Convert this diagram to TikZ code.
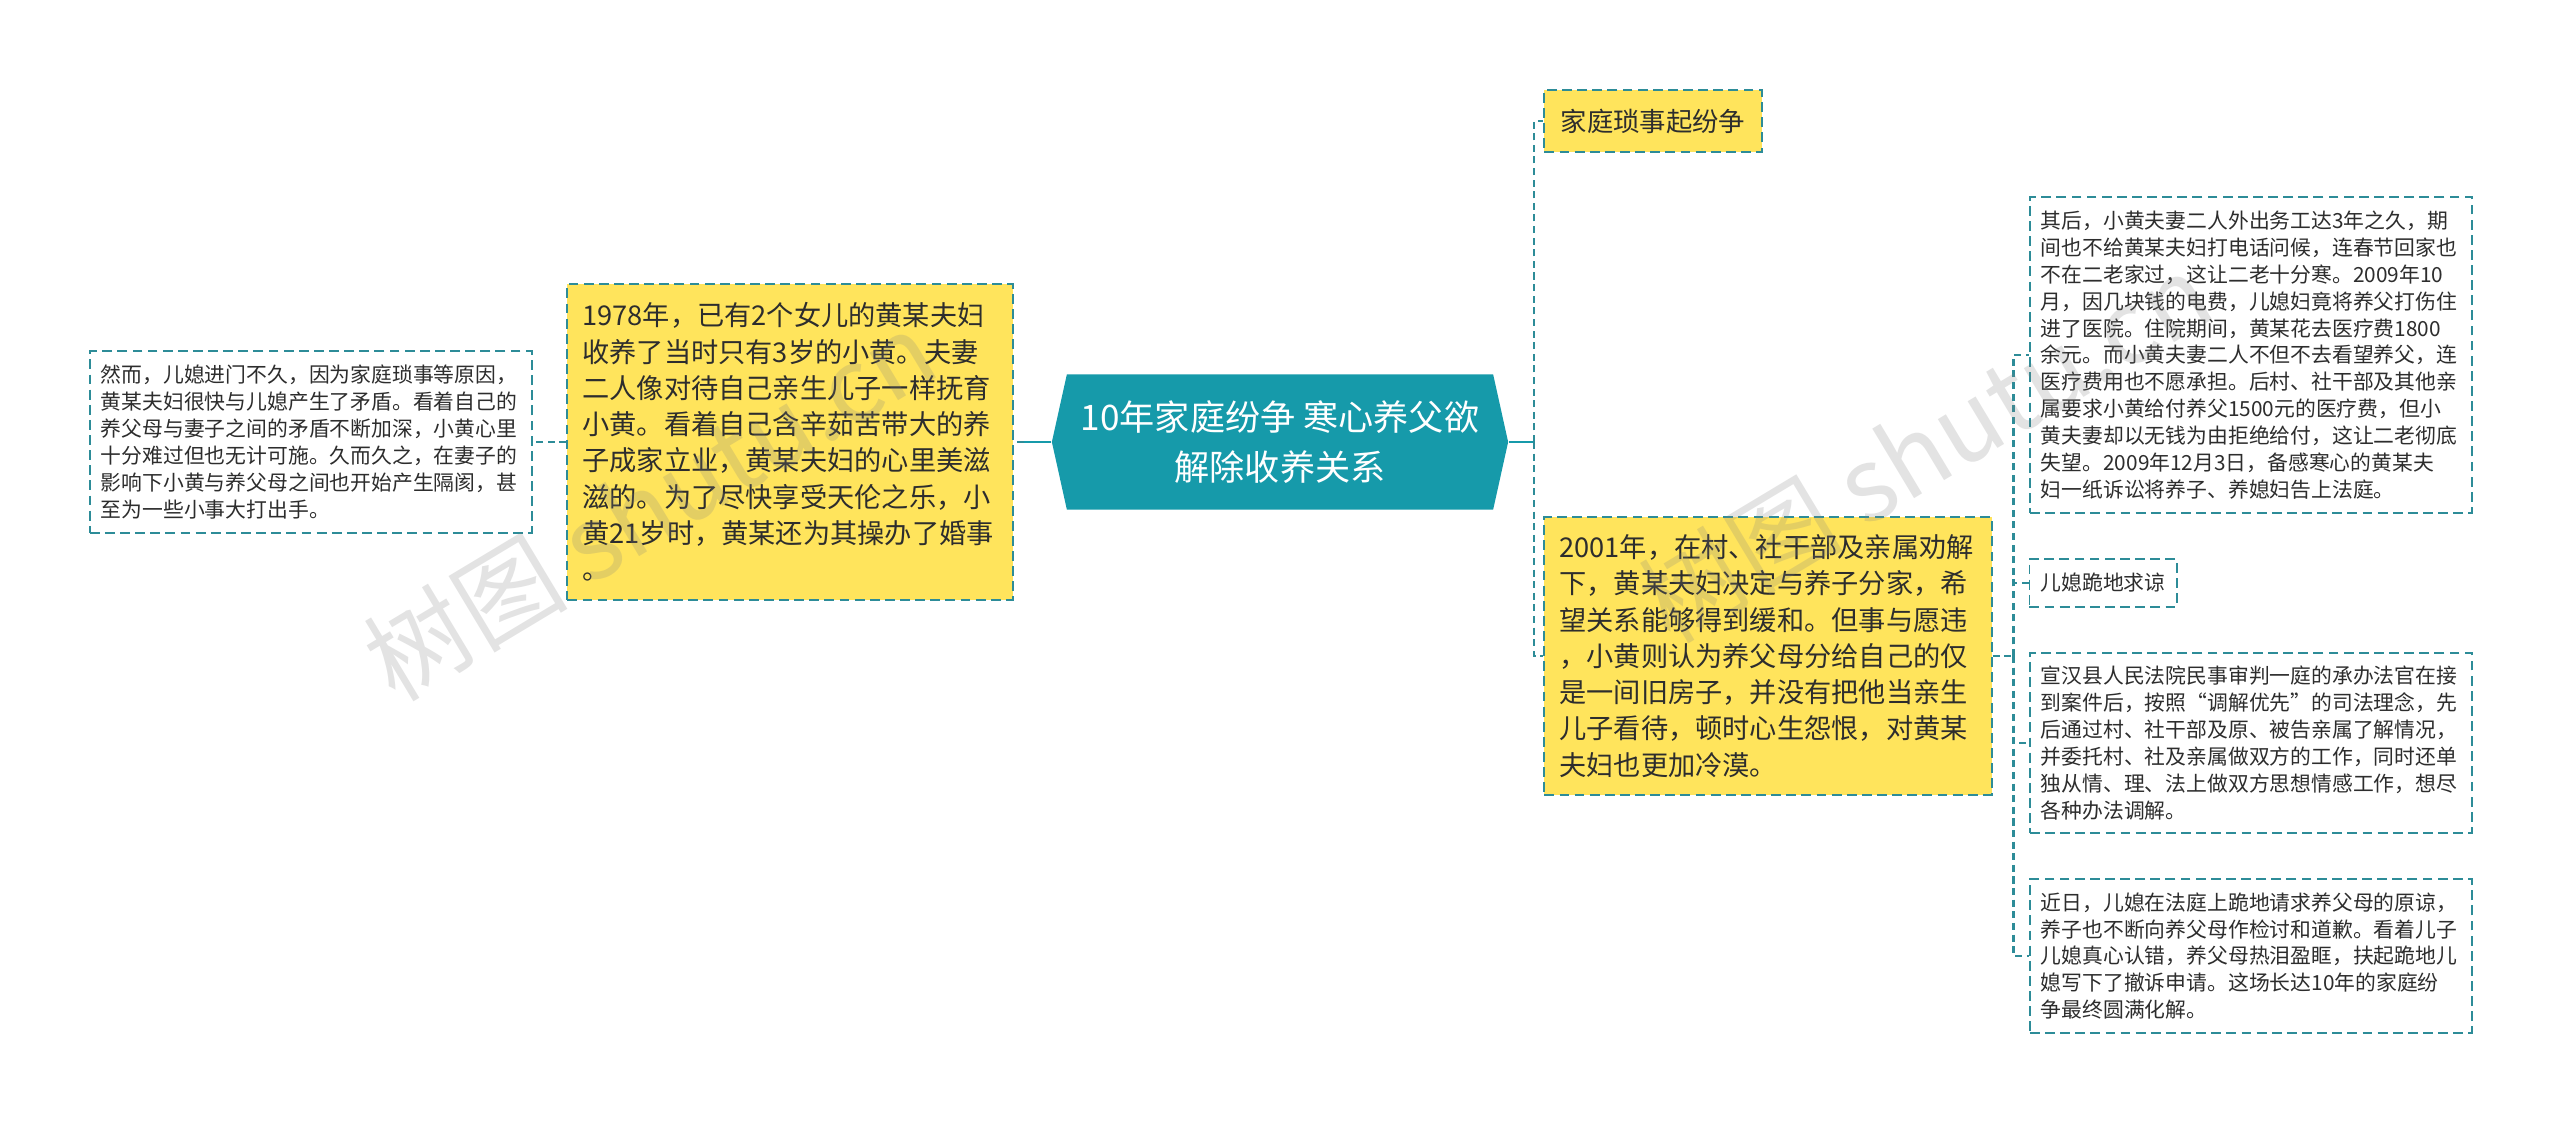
\documentclass[tikz,border=0pt]{standalone}
\usepackage{fontspec}
\setmainfont{Noto Sans CJK SC}
\usepackage{tikz}
\usetikzlibrary{shapes,backgrounds}
\usetikzlibrary{calc}
\usepackage{color}
\definecolor{tealfill}{RGB}{22,154,170}
\definecolor{tealline}{RGB}{45,140,152}
\definecolor{boxyellow}{RGB}{255,228,92}
\definecolor{boxtext}{RGB}{45,45,45}

\tikzset{
  link/.style={draw=tealline, line width=0.7pt, dash pattern=on 2pt off 1.3pt},
  rootlink/.style={draw=tealfill, line width=0.7pt},
  boxline/.style={draw=tealline, line width=0.55pt, dash pattern=on 2.8pt off 1.5pt},
  ybox/.style={boxline, fill=boxyellow, text=boxtext, align=left, inner ysep=0pt,
    inner xsep=0.15cm, font=\fontsize{7.74pt}{10.3pt}\selectfont},
  wbox/.style={boxline, fill=white, text=boxtext, align=left, inner ysep=0pt,
    inner xsep=0.11cm, text width=4.2cm, font=\fontsize{5.92pt}{7.63pt}\selectfont},
  wmark/.style={text=gray, text opacity=0.22, rotate=31,
    font=\fontsize{29pt}{29pt}\selectfont},
}

\begin{document}
\begin{tikzpicture}[x=0.01cm,y=-0.01cm]
\path[use as bounding box, fill=white] (0,0) rectangle (2560,1125);
\node[shape=signal, signal to=east and west, signal pointer angle=155, fill=tealfill,
  text=white, align=center, inner sep=0pt, minimum width=4.56cm, minimum height=1.35cm,
  font=\fontsize{10pt}{14pt}\selectfont] (R) at (1280,442) {10年家庭纷争 寒心养父欲\\解除收养关系};
\node[ybox, text width=4.15cm, minimum height=3.15cm] (L1) at (790,442) {1978年，已有2个女儿的黄某夫妇\\收养了当时只有3岁的小黄。夫妻\\二人像对待自己亲生儿子一样抚育\\小黄。看着自己含辛茹苦带大的养\\子成家立业，黄某夫妇的心里美滋\\滋的。为了尽快享受天伦之乐，小\\黄21岁时，黄某还为其操办了婚事\\。};
\node[wbox, minimum height=1.81cm] (L2) at (311,442) {然而，儿媳进门不久，因为家庭琐事等原因，\\黄某夫妇很快与儿媳产生了矛盾。看着自己的\\养父母与妻子之间的矛盾不断加深，小黄心里\\十分难过但也无计可施。久而久之，在妻子的\\影响下小黄与养父母之间也开始产生隔阂，甚\\至为一些小事大打出手。};
\node[ybox, align=center, inner sep=0pt, minimum width=2.17cm, minimum height=0.62cm,
  font=\fontsize{7.5pt}{9pt}\selectfont] (T1) at (1653,121) {家庭琐事起纷争};
\node[ybox, text width=4.17cm, minimum height=2.77cm] (T2) at (1768,656) {2001年，在村、社干部及亲属劝解\\下，黄某夫妇决定与养子分家，希\\望关系能够得到缓和。但事与愿违\\，小黄则认为养父母分给自己的仅\\是一间旧房子，并没有把他当亲生\\儿子看待，顿时心生怨恨，对黄某\\夫妇也更加冷漠。};
\node[wbox, minimum height=3.16cm] (S1) at (2251,355) {其后，小黄夫妻二人外出务工达3年之久，期\\间也不给黄某夫妇打电话问候，连春节回家也\\不在二老家过，这让二老十分寒。2009年10\\月，因几块钱的电费，儿媳妇竟将养父打伤住\\进了医院。住院期间，黄某花去医疗费1800\\余元。而小黄夫妻二人不但不去看望养父，连\\医疗费用也不愿承担。后村、社干部及其他亲\\属要求小黄给付养父1500元的医疗费，但小\\黄夫妻却以无钱为由拒绝给付，这让二老彻底\\失望。2009年12月3日，备感寒心的黄某夫\\妇一纸诉讼将养子、养媳妇告上法庭。};
\node[wbox, text width=, align=center, inner sep=0pt, minimum width=1.47cm,
  minimum height=0.48cm] (S2) at (2103,583) {儿媳跪地求谅};
\node[wbox, minimum height=1.80cm] (S3) at (2251,743) {宣汉县人民法院民事审判一庭的承办法官在接\\到案件后，按照“调解优先”的司法理念，先\\后通过村、社干部及原、被告亲属了解情况，\\并委托村、社及亲属做双方的工作，同时还单\\独从情、理、法上做双方思想情感工作，想尽\\各种办法调解。};
\node[wbox, minimum height=1.53cm] (S4) at (2251,956) {近日，儿媳在法庭上跪地请求养父母的原谅，\\养子也不断向养父母作检讨和道歉。看着儿子\\儿媳真心认错，养父母热泪盈眶，扶起跪地儿\\媳写下了撤诉申请。这场长达10年的家庭纷\\争最终圆满化解。};
\draw[rootlink] (R.east) -- ++(25,0) coordinate (C);
\draw[rootlink] (R.west) -- ++(-27,0) coordinate (D);
\draw[link, to path={|- (\tikztotarget)}]
  (C) edge (T1.west) edge (T2.west);
\draw[link] (D) -- (L1.east);
\draw[link] (L1.west) -- (L2.east);
\draw[link] (T2.east) -- ++(21,0) coordinate (E);
\draw[link, to path={|- (\tikztotarget)}]
  (E) edge (S1.west) edge (S2.west) edge (S3.west) edge (S4.west);
\node[wmark] (W1) at (650,505) {树图 shutu.cn};
\node[wmark] (W2) at (1925,447) {树图 shutu.cn};
\end{tikzpicture}
\end{document}
